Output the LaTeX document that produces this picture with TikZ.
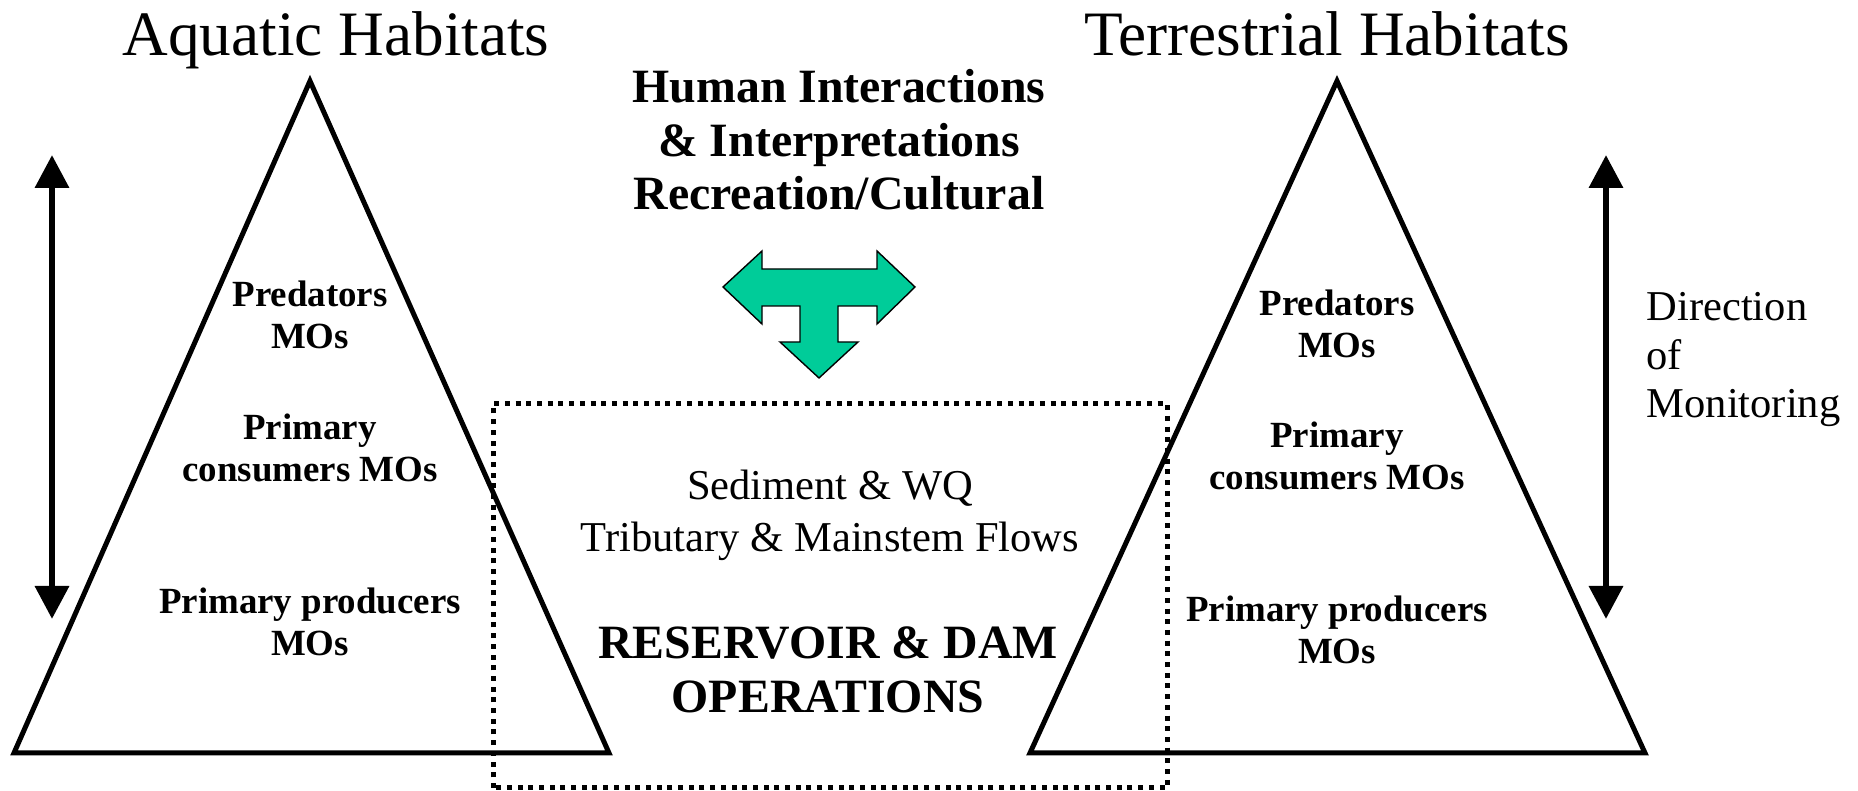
\documentclass[tikz,border=0pt]{standalone}
\usepackage{fontspec}
\setmainfont{Liberation Serif}
\usetikzlibrary{arrows.meta}
\definecolor{teal}{RGB}{0,204,153}
\begin{document}
\begin{tikzpicture}[
  title/.style={font=\fontsize{18}{21}\selectfont,anchor=base,inner sep=0pt},
  level/.style={font=\fontsize{10.5}{12.1}\selectfont\bfseries,align=center,inner sep=0pt},
  pyramid/.style={line width=0.5mm},
  monitor/.style={line width=0.65mm,{Triangle[width=3.3mm,length=3.3mm]}-{Triangle[width=3.3mm,length=3.3mm]}}
]
\useasboundingbox (0,0) rectangle (18.58,7.91);

% Titles
\node[title] (aqtitle) at (3.36,7.35) {Aquatic Habitats};
\node[title] (tertitle) at (13.27,7.35) {Terrestrial Habitats};

% Pyramids
\coordinate (aqtop) at (3.10,7.10);
\coordinate (aqleft) at (0.14,0.38);
\coordinate (aqright) at (6.09,0.38);
\draw[pyramid] (aqtop) -- (aqleft) -- (aqright) -- cycle;
\coordinate (tertop) at (13.37,7.10);
\coordinate (terleft) at (10.30,0.38);
\coordinate (terright) at (16.45,0.38);
\draw[pyramid] (tertop) -- (terleft) -- (terright) -- cycle;

% Levels (aquatic)
\node[level] (aqpred) at (3.10,4.76) {Predators\\MOs};
\node[level] (aqcons) at (3.10,3.43) {Primary\\consumers MOs};
\node[level] (aqprod) at (3.10,1.69) {Primary producers\\MOs};

% Levels (terrestrial)
\node[level] (terpred) at (13.37,4.67) {Predators\\MOs};
\node[level] (tercons) at (13.37,3.35) {Primary\\consumers MOs};
\node[level] (terprod) at (13.37,1.61) {Primary producers\\MOs};

% Direction of monitoring arrows
\coordinate (aqup) at (0.52,6.36);
\coordinate (aqdown) at (0.52,1.72);
\draw[monitor] (aqdown) -- (aqup);
\coordinate (terup) at (16.06,6.36);
\coordinate (terdown) at (16.06,1.72);
\draw[monitor] (terdown) -- (terup);
\node[font=\fontsize{12.1}{13.8}\selectfont,align=left,anchor=west,inner sep=0pt] (direction) at (16.46,4.31) {Direction\\of\\Monitoring};

% Human interactions
\node[font=\fontsize{13.6}{15.2}\selectfont\bfseries,align=center,inner sep=0pt] (human) at (8.39,6.51) {Human Interactions\\\& Interpretations\\Recreation/Cultural};

% T-shaped arrow
\filldraw[fill=teal,draw=black,line width=0.4pt] (7.23,5.04) -- (7.62,5.40) -- (7.62,5.22) -- (8.77,5.22) -- (8.77,5.40) -- (9.15,5.04)
  -- (8.77,4.67) -- (8.77,4.85) -- (8.38,4.85) -- (8.38,4.49) -- (8.58,4.49) -- (8.19,4.13) -- (7.80,4.49)
  -- (8.00,4.49) -- (8.00,4.85) -- (7.62,4.85) -- (7.62,4.67) -- cycle;

% Reservoir box
\draw[line width=0.5mm,dash pattern=on 0.5mm off 0.57mm] (4.93,0.03) rectangle (11.67,3.87);
\node[font=\fontsize{12.1}{14.8}\selectfont,align=center,inner sep=0pt] (flows) at (8.30,2.76) {Sediment \& WQ\\Tributary \& Mainstem Flows};
\node[font=\fontsize{13.6}{15.5}\selectfont\bfseries,align=center,inner sep=0pt] (reservoir) at (8.28,1.21) {RESERVOIR \& DAM\\OPERATIONS};

\end{tikzpicture}
\end{document}
